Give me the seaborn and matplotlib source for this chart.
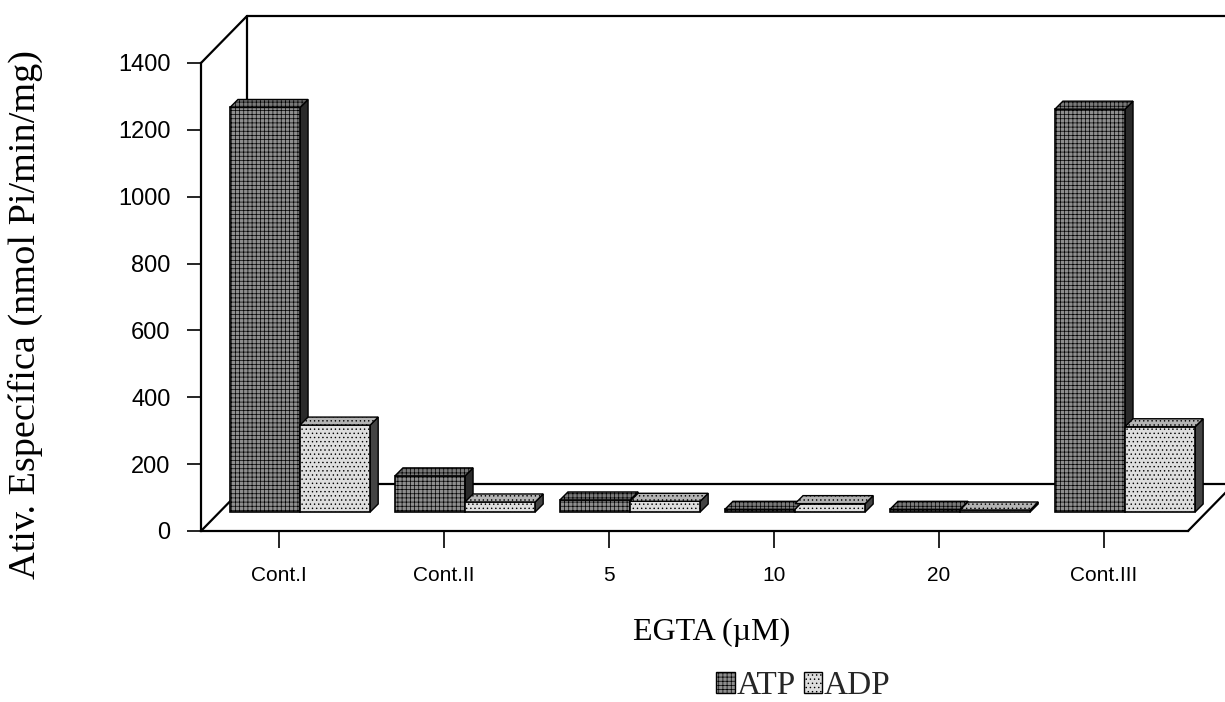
import numpy as np
import pandas as pd
import matplotlib
matplotlib.use("Agg")
import matplotlib.pyplot as plt
import seaborn as sns
from matplotlib.patches import Polygon, Patch
from matplotlib.transforms import ScaledTranslation
from matplotlib.lines import Line2D

# ---- data -------------------------------------------------------------
categories = ["Cont.I", "Cont.II", "5", "10", "20", "Cont.III"]
series = ["ATP", "ADP"]
atp = [1210, 108, 36, 8, 8, 1205]
adp = [260, 30, 32, 25, 6, 255]
y_ticks = [0, 200, 400, 600, 800, 1000, 1200, 1400]

df = pd.DataFrame({
    "EGTA": categories * 2,
    "Substrato": ["ATP"] * len(categories) + ["ADP"] * len(categories),
    "Atividade": atp + adp,
})

# ---- style ------------------------------------------------------------
sns.set_theme(style="white")
plt.rcParams["font.family"] = ["Liberation Sans", "DejaVu Sans"]
plt.rcParams["hatch.linewidth"] = 0.5
SERIF = ["Liberation Serif", "DejaVu Serif"]

front = {"ATP": "#8e8e8e", "ADP": "#dedede"}
topc = {"ATP": "#7a7a7a", "ADP": "#b4b4b4"}
sidec = {"ATP": "#2a2a2a", "ADP": "#444444"}
hatch = {"ATP": "++++", "ADP": "...."}

DPI = 100
fig = plt.figure(figsize=(12.25, 7.02), dpi=DPI)
ax = fig.add_axes([0.1641, 0.2436, 0.8057, 0.6667])
ax.set_zorder(1)
ax.patch.set_visible(False)

sns.barplot(data=df, x="EGTA", y="Atividade", hue="Substrato",
            order=categories, hue_order=series,
            palette=front, saturation=1, width=0.85, dodge=True,
            edgecolor="black", linewidth=1.2, legend=False, ax=ax)

xmin, xmax = -0.473, 5.509
ax.set_xlim(xmin, xmax)
ax.set_ylim(0, 1400)
ax.set_yticks(y_ticks)

# pixel scale of the data axes
pos = ax.get_position()
ax_w_px = pos.width * fig.get_figwidth() * DPI
ax_h_px = pos.height * fig.get_figheight() * DPI
px_x = ax_w_px / (xmax - xmin)
px_y = ax_h_px / 1400.0

# bars sit part-way into the floor: shift them back in depth
shift = ax.transData + ScaledTranslation(21 / DPI, 19 / DPI, fig.dpi_scale_trans)
dd_x = 8 / px_x      # bar depth, in data units
dd_y = 8 / px_y

bars = [p for p in ax.patches]
n = len(categories)
for i, bar in enumerate(bars):
    s = series[i // n]
    bar.set_transform(shift)
    bar.set_clip_on(False)
    bar.set_hatch(hatch[s])
    bar.set_zorder(3)
    x0 = bar.get_x()
    x1 = x0 + bar.get_width()
    h = bar.get_height()
    top = Polygon([(x0, h), (x1, h), (x1 + dd_x, h + dd_y), (x0 + dd_x, h + dd_y)],
                  closed=True, facecolor=topc[s], edgecolor="black",
                  linewidth=1.0, hatch=hatch[s], transform=shift,
                  clip_on=False, zorder=3)
    side = Polygon([(x1, 0), (x1 + dd_x, dd_y), (x1 + dd_x, h + dd_y), (x1, h)],
                   closed=True, facecolor=sidec[s], edgecolor="black",
                   linewidth=1.0, transform=shift, clip_on=False, zorder=2.9)
    ax.add_patch(side)
    ax.add_patch(top)

# ---- axes frame: front spines plus the receding back wall ---------------
for sp in ["top", "right"]:
    ax.spines[sp].set_visible(False)
for sp in ["left", "bottom"]:
    ax.spines[sp].set_color("black")
    ax.spines[sp].set_linewidth(1.6)

W, H = fig.get_figwidth() * DPI, fig.get_figheight() * DPI
L, R = pos.x0 * W, pos.x1 * W
B, T = pos.y0 * H, pos.y1 * H
DX, DY = 46, 47

def wall(p, q):
    fig.add_artist(Line2D([p[0] / W, q[0] / W], [p[1] / H, q[1] / H],
                          transform=fig.transFigure, color="black",
                          linewidth=1.6, zorder=0.5))

wall((L, T), (L + DX, T + DY))
wall((L + DX, T + DY), (W + 20, T + DY))
wall((L + DX, B + DY), (L + DX, T + DY))
wall((L + DX, B + DY), (R + DX, B + DY))
wall((L, B), (L + DX, B + DY))
wall((R, B), (R + DX, B + DY))

ax.tick_params(axis="y", which="both", left=True, direction="out",
               length=10, width=1.2, color="black", labelsize=17, pad=12,
               labelcolor="black")
ax.tick_params(axis="x", which="both", bottom=True, direction="out",
               length=12, width=1.2, color="black", labelsize=15, pad=13,
               labelcolor="black")

ax.set_xlabel("EGTA (µM)", family=SERIF, fontsize=23, color="black", va="center")
ax.xaxis.set_label_coords(0.5177, -0.216)
ax.set_ylabel("Ativ. Específica (nmol Pi/min/mg)", family=SERIF, fontsize=27.5,
              color="black", va="center")
ax.yaxis.set_label_coords(-0.178, 0.463)

handles = [Patch(facecolor=front[s], edgecolor="black", hatch=hatch[s],
                 linewidth=1.0) for s in series]
fig.legend(handles, series, loc="center", bbox_to_anchor=(0.656, 1 - 686 / 702),
           ncol=2, frameon=False, prop={"family": SERIF, "size": 24},
           handlelength=0.55, handleheight=0.6, handletextpad=0.05,
           columnspacing=0.25, borderaxespad=0, borderpad=0)

fig.savefig("out.png", dpi=DPI, facecolor="white")
